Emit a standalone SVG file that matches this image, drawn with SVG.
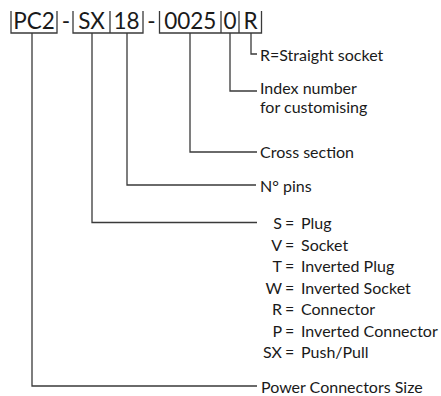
<svg xmlns="http://www.w3.org/2000/svg" width="441" height="396" viewBox="0 0 441 396">
<style>
.bg{fill:#ffffff}
.hd{font-family:Lato,"Open Sans","Liberation Sans",sans-serif;font-size:22.5px;fill:#1a1a1a;text-anchor:middle}
.lb{font-family:Lato,"Open Sans","Liberation Sans",sans-serif;font-size:16px;fill:#1a1a1a}
.cd{text-anchor:end}
.ln{fill:none;stroke:#3a3a3a;stroke-width:1.3}
</style>
<rect class="bg" x="0" y="0" width="441" height="396"/>
<g id="code">
  <text class="hd" x="34" y="28.5">PC2</text>
  <text class="hd" x="66" y="28.5">-</text>
  <text class="hd" x="91.5" y="28.5">SX</text>
  <text class="hd" x="126.5" y="28.5">18</text>
  <text class="hd" x="151.5" y="28.5">-</text>
  <text class="hd" x="190.3" y="28.5">0025</text>
  <text class="hd" x="230" y="28.5">0</text>
  <text class="hd" x="250.5" y="28.5">R</text>
  <path class="ln" d="M11 11V33H57V11M73 11V33H143V11M110 11V33M159.5 11V33H261.5V11M221 11V33M239 11V33"/>
</g>
<g id="connectors">
  <path class="ln" d="M251 33V54H257"/>
  <path class="ln" d="M230 33V91H257"/>
  <path class="ln" d="M190 33V152H257"/>
  <path class="ln" d="M127 33V185H256"/>
  <path class="ln" d="M92 33V222.5H257"/>
  <path class="ln" d="M32 33V386H257"/>
</g>
<g id="n-r">
  <text class="lb" x="260" y="60.5">R=Straight socket</text>
</g>
<g id="n-index">
  <text class="lb" x="260" y="93.5">Index number</text>
  <text class="lb" x="260" y="113">for customising</text>
</g>
<g id="n-cross">
  <text class="lb" x="260" y="158">Cross section</text>
</g>
<g id="n-pins">
  <text class="lb" x="260" y="191.5">N° pins</text>
</g>
<g id="n-type">
  <text class="lb cd" x="282" y="229">S</text><text class="lb" x="285" y="229">=</text><text class="lb" x="301" y="229">Plug</text>
  <text class="lb cd" x="282" y="250.5">V</text><text class="lb" x="285" y="250.5">=</text><text class="lb" x="301" y="250.5">Socket</text>
  <text class="lb cd" x="282" y="272">T</text><text class="lb" x="285" y="272">=</text><text class="lb" x="301" y="272">Inverted Plug</text>
  <text class="lb cd" x="282" y="293.5">W</text><text class="lb" x="285" y="293.5">=</text><text class="lb" x="301" y="293.5">Inverted Socket</text>
  <text class="lb cd" x="282" y="315">R</text><text class="lb" x="285" y="315">=</text><text class="lb" x="301" y="315">Connector</text>
  <text class="lb cd" x="282" y="336.5">P</text><text class="lb" x="285" y="336.5">=</text><text class="lb" x="301" y="336.5">Inverted Connector</text>
  <text class="lb cd" x="282" y="357.5">SX</text><text class="lb" x="285" y="357.5">=</text><text class="lb" x="301" y="357.5">Push/Pull</text>
</g>
<g id="n-size">
  <text class="lb" x="261" y="393">Power Connectors Size</text>
</g>
</svg>
